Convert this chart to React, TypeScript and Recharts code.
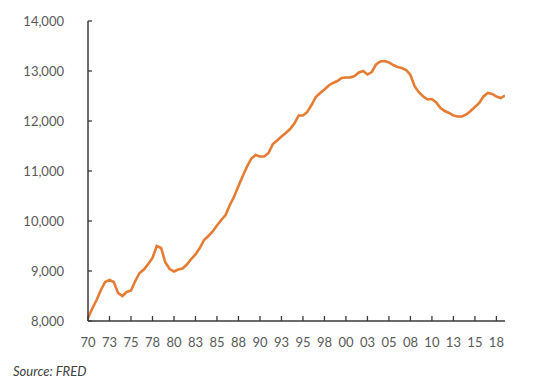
import React from 'react';
import { LineChart, Line, XAxis, YAxis } from 'recharts';

// Semi-annual observations starting 1970.0
const START_YEAR = 1970;
const STEP_YEARS = 0.5;
const values: number[] = [
  8060, 8250, 8420, 8620, 8780, 8820, 8780, 8560, 8500, 8580,
  8610, 8800, 8960, 9030, 9140, 9260, 9500, 9460, 9170, 9040,
  8990, 9030, 9050, 9130, 9240, 9330, 9460, 9620, 9700, 9790,
  9910, 10020, 10120, 10320, 10490, 10700, 10900, 11090, 11250, 11320,
  11290, 11290, 11360, 11540, 11610, 11690, 11760, 11840, 11950, 12110,
  12110, 12180, 12320, 12480, 12560, 12630, 12710, 12760, 12800, 12860,
  12870, 12870, 12900, 12970, 13000, 12930, 12980, 13130, 13190, 13200,
  13170, 13120, 13080, 13060, 13020, 12920, 12690, 12570, 12490, 12430,
  12440, 12370, 12260, 12200, 12160, 12110, 12090, 12090, 12130, 12200,
  12280, 12360, 12490, 12560, 12540, 12490, 12460, 12510,
];

const xTickPositions = [
  1970, 1972.5, 1975, 1977.5, 1980, 1982.5, 1985, 1987.5, 1990, 1992.5,
  1995, 1997.5, 2000, 2002.5, 2005, 2007.5, 2010, 2012.5, 2015, 2017.5,
];
const xTickLabels = [
  '70', '73', '75', '78', '80', '83', '85', '88', '90', '93',
  '95', '98', '00', '03', '05', '08', '10', '13', '15', '18',
];
const yTicks = [8000, 9000, 10000, 11000, 12000, 13000, 14000];

const data = values.map((v, i) => ({ year: START_YEAR + i * STEP_YEARS, value: v }));

const AXIS_COLOR = '#3a3a3a';
const TEXT_COLOR = '#595959';
const LINE_COLOR = '#E67B33';
const FONT = 'Lato, "Open Sans", sans-serif';

const X_MARGIN = 17;
const Y_MARGIN = 24;

const XTick = (props: any) => {
  const { x, y, payload } = props;
  const idx = xTickPositions.indexOf(payload.value);
  const axisY = y - X_MARGIN;
  return (
    <g>
      <line x1={x} y1={axisY} x2={x} y2={axisY - 5} stroke={AXIS_COLOR} strokeWidth={1.3} />
      <text x={x} y={y} dy="0.71em" textAnchor="middle" fill={TEXT_COLOR} fontSize={13} fontFamily={FONT}>
        {idx >= 0 ? xTickLabels[idx] : ''}
      </text>
    </g>
  );
};

const YTick = (props: any) => {
  const { x, y, payload } = props;
  const axisX = x + Y_MARGIN;
  return (
    <g>
      <line x1={axisX} y1={y} x2={axisX + 4} y2={y} stroke={AXIS_COLOR} strokeWidth={1.3} />
      <text x={x} y={y} dy="0.355em" textAnchor="end" fill={TEXT_COLOR} fontSize={13} fontFamily={FONT}>
        {payload.value.toLocaleString('en-US')}
      </text>
    </g>
  );
};

export default function App() {
  return (
    <div style={{ position: 'relative', width: 534, height: 375 }}>
      <LineChart
        width={534}
        height={350}
        data={data}
        margin={{ top: 13, right: 37, bottom: 0, left: 0 }}
      >
        <XAxis
          dataKey="year"
          type="number"
          domain={[1970, 2018.5]}
          ticks={xTickPositions}
          interval={0}
          allowDataOverflow
          height={37}
          tickSize={0}
          tickMargin={X_MARGIN}
          tickLine={false}
          axisLine={{ stroke: AXIS_COLOR, strokeWidth: 1.5 }}
          tick={<XTick />}
        />
        <YAxis
          type="number"
          domain={[8000, 14000]}
          ticks={yTicks}
          interval={0}
          width={80}
          tickSize={0}
          tickMargin={Y_MARGIN}
          tickLine={false}
          axisLine={{ stroke: AXIS_COLOR, strokeWidth: 1.5 }}
          tick={<YTick />}
        />
        <Line
          type="linear"
          dataKey="value"
          stroke={LINE_COLOR}
          strokeWidth={2.6}
          dot={false}
          isAnimationActive={false}
        />
      </LineChart>
      <div
        style={{
          position: 'absolute',
          left: 5,
          top: 356,
          fontFamily: FONT,
          fontStyle: 'italic',
          fontSize: 13,
          lineHeight: '14px',
          color: '#404040',
        }}
      >
        Source: FRED
      </div>
    </div>
  );
}
